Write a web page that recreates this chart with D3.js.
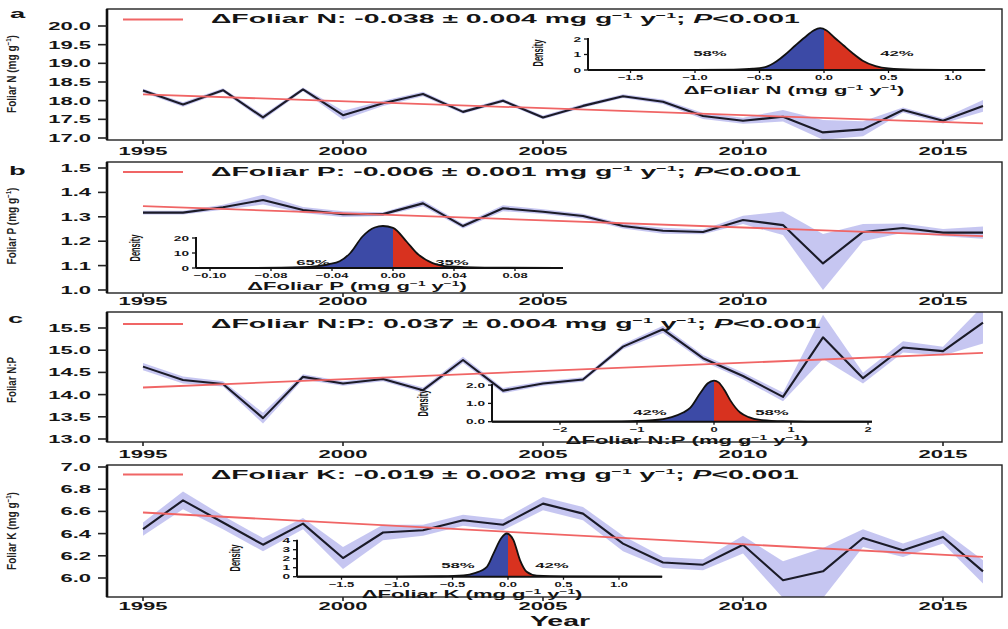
<!DOCTYPE html>
<html><head><meta charset="utf-8">
<script src="https://cdn.jsdelivr.net/npm/d3@7"></script>
<style>body{margin:0;background:#fff}svg{display:block}text{font-family:"Liberation Sans",Arial,sans-serif}</style>
</head><body><svg id="chart" width="1008" height="629"></svg>
<script>
// ---------------- data ----------------
const years=[1995,1996,1997,1998,1999,2000,2001,2002,2003,2004,2005,2006,2007,2008,2009,2010,2011,2012,2013,2014,2015,2016];
const xTickYears=[1995,2000,2005,2010,2015];
const trendYears=[1995,2016];

const foliarN  =[18.27,17.90,18.28,17.55,18.30,17.61,17.93,18.18,17.70,18.00,17.55,17.86,18.12,17.97,17.59,17.46,17.57,17.15,17.23,17.75,17.46,17.86];
const foliarNLo=[18.22,17.84,18.23,17.48,18.25,17.49,17.86,18.12,17.65,17.95,17.50,17.81,18.07,17.91,17.51,17.38,17.44,16.95,17.05,17.68,17.39,17.70];
const foliarNHi=[18.32,17.96,18.33,17.62,18.35,17.73,18.00,18.24,17.75,18.05,17.60,17.91,18.17,18.03,17.67,17.54,17.75,17.48,17.45,17.82,17.53,18.02];
const trendN=[18.17,17.39];
const ticksN=[17.0,17.5,18.0,18.5,19.0,19.5,20.0];

const foliarP  =[1.317,1.317,1.339,1.369,1.328,1.311,1.311,1.355,1.262,1.335,1.321,1.303,1.262,1.243,1.238,1.287,1.266,1.109,1.238,1.254,1.235,1.235];
const foliarPLo=[1.309,1.309,1.329,1.350,1.316,1.299,1.303,1.343,1.252,1.323,1.311,1.293,1.252,1.231,1.228,1.270,1.225,1.000,1.200,1.235,1.220,1.210];
const foliarPHi=[1.325,1.325,1.349,1.390,1.340,1.323,1.319,1.367,1.272,1.347,1.331,1.313,1.272,1.255,1.248,1.304,1.322,1.230,1.270,1.273,1.250,1.260];
const trendP=[1.344,1.221];
const ticksP=[1.0,1.1,1.2,1.3,1.4,1.5];

const foliarNP  =[14.63,14.33,14.24,13.47,14.40,14.25,14.35,14.10,14.78,14.09,14.25,14.34,15.08,15.47,14.82,14.42,13.95,15.29,14.37,15.06,14.98,15.62];
const foliarNPLo=[14.55,14.25,14.18,13.35,14.34,14.20,14.30,14.04,14.71,14.03,14.20,14.29,15.02,15.39,14.75,14.34,13.85,14.80,14.25,14.95,14.88,15.15];
const foliarNPHi=[14.71,14.41,14.30,13.59,14.46,14.30,14.40,14.16,14.85,14.15,14.30,14.39,15.14,15.55,14.89,14.50,14.05,15.80,14.49,15.20,15.08,16.00];
const trendNP=[14.16,14.94];
const ticksNP=[13.0,13.5,14.0,14.5,15.0,15.5];

const foliarK  =[6.44,6.70,6.50,6.30,6.49,6.18,6.41,6.43,6.52,6.48,6.67,6.58,6.31,6.14,6.12,6.30,5.98,6.06,6.36,6.25,6.37,6.06];
const foliarKLo=[6.38,6.62,6.44,6.24,6.44,6.08,6.34,6.38,6.47,6.43,6.61,6.52,6.24,6.09,6.07,6.22,5.82,5.82,6.28,6.19,6.31,5.95];
const foliarKHi=[6.50,6.78,6.56,6.36,6.54,6.28,6.48,6.48,6.57,6.53,6.73,6.64,6.38,6.19,6.17,6.38,6.15,6.27,6.44,6.31,6.43,6.16];
const trendK=[6.59,6.19];
const ticksK=[6.0,6.2,6.4,6.6,6.8,7.0];

// slope density insets
const densNx=[-1.8,-1.0,-0.7,-0.55,-0.45,-0.37,-0.3,-0.22,-0.15,-0.08,-0.03,0.02,0.08,0.15,0.22,0.3,0.4,0.5,0.7,1.0,1.25];
const densNy=[0,0.01,0.03,0.08,0.2,0.55,1.0,1.6,2.1,2.55,2.7,2.55,2.1,1.6,1.1,0.6,0.25,0.1,0.03,0.01,0];
const densNxTicks=[-1.5,-1.0,-0.5,0.0,0.5,1.0];
const densNxLabels=["−1.5","−1.0","−0.5","0.0","0.5","1.0"];
const densNyTicks=[0,1,2];
const densNyLabels=["0","1","2"];
const pctN=["58%","42%"];

const densPx=[-0.129,-0.09,-0.06,-0.05,-0.042,-0.035,-0.028,-0.02,-0.012,-0.0066,0,0.009,0.0155,0.026,0.037,0.06,0.111];
const densPy=[0,0.1,0.5,1.2,2.5,4.5,10,21,27,28,26.7,17.5,10,3.3,1,0.3,0];
const densPxTicks=[-0.12,-0.08,-0.04,0,0.04,0.08];
const densPxLabels=["−0.10","−0.08","−0.04","0.00","0.04","0.08"];
const densPyTicks=[0,10,20];
const densPyLabels=["0","10","20"];
const pctP=["65%","35%"];

const densNPx=[-2.88,-2.0,-1.2,-0.8,-0.55,-0.4,-0.31,-0.18,-0.08,0.0,0.06,0.14,0.21,0.34,0.45,0.6,0.9,1.5,2.05];
const densNPy=[0,0,0.02,0.08,0.25,0.5,0.75,1.55,2.1,2.25,2.15,1.7,1.18,0.5,0.25,0.1,0.03,0,0];
const densNPxTicks=[-2,-1,0,1,2];
const densNPxLabels=["−2","−1","0","1","2"];
const densNPyTicks=[0,1,2];
const densNPyLabels=["0.0","1.0","2.0"];
const pctNP=["42%","58%"];

const densKx=[-1.9,-1.0,-0.6,-0.4,-0.3,-0.19,-0.13,-0.06,-0.012,0.048,0.108,0.168,0.26,0.5,1.39];
const densKy=[0,0.01,0.05,0.15,0.4,1.1,2.6,4.3,4.8,4.1,1.85,0.55,0.12,0.03,0];
const densKxTicks=[-1.5,-1.0,-0.5,0,0.5,1.0];
const densKxLabels=["−1.5","−1.0","−0.5","0.0","0.5","1.0"];
const densKyTicks=[0,1,2,3,4];
const densKyLabels=["0","1","2","3","4"];
const pctK=["58%","42%"];

const slopeN="ΔFoliar N: -0.038 ± 0.004";
const slopeP="ΔFoliar P: -0.006 ± 0.001";
const slopeNP="ΔFoliar N:P: 0.037 ± 0.004";
const slopeK="ΔFoliar K: -0.019 ± 0.002";

// ---------------- drawing ----------------
const svg=d3.select("#chart");
const SX=2.1;
const BAND="#c0c0f0", RED_T="#f06565", LINE="#1b1b28", BLUE="#3c4aa6", RED="#d8321f";

function stext(parent,x,y,parts,o={}){
  const fs=o.size||11;
  const g=parent.append("g");
  const t=g.append("text").attr("font-size",fs).attr("font-weight",o.weight||"bold")
    .attr("text-anchor",o.anchor||"start").attr("fill",o.fill||"#151515");
  if(typeof parts==="string") parts=[{t:parts}];
  let raised=false;
  parts.forEach(p=>{
    const sp=t.append("tspan").text(p.t);
    if(p.sup){sp.attr("font-size",fs*0.62).attr("dy",-fs*0.42);raised=true;}
    else if(raised){sp.attr("dy",fs*0.42);raised=false;}
    if(p.it) sp.attr("font-style","italic");
  });
  let k=o.sx||SX;
  if(o.width){k=o.width/t.node().getComputedTextLength();}
  let tr=`translate(${x},${y})`;
  if(o.rot==="title") tr+=` rotate(-90) scale(${k},1)`;
  else if(o.rot==="stretch") tr+=` scale(${o.sx||SX},1) rotate(-90)`;
  else tr+=` scale(${k},1)`;
  g.attr("transform",tr);
  return g;
}
function unitParts(){return [{t:" (mg g"},{t:"−1",sup:true},{t:" y"},{t:"−1",sup:true},{t:")"}];}

const x=d3.scaleLinear().domain([1994.1,2016.475]).range([107,1002]);

function panel(c){
  const y=d3.scaleLinear().domain(c.cal).range(c.calPx);
  const g=svg.append("g");
  const id="clip"+c.key;
  svg.append("clipPath").attr("id",id).append("rect")
    .attr("x",107).attr("y",c.top).attr("width",1002-107).attr("height",c.bottom-c.top);
  const pg=g.append("g").attr("clip-path",`url(#${id})`);
  const idx=d3.range(years.length);
  pg.append("path").datum(idx).attr("fill",BAND).attr("opacity",0.9)
    .attr("d",d3.area().x(i=>x(years[i])).y0(i=>y(c.lo[i])).y1(i=>y(c.hi[i])));
  pg.append("path").datum(idx).attr("fill","none").attr("stroke",LINE).attr("stroke-width",2.1)
    .attr("stroke-linejoin","round")
    .attr("d",d3.line().x(i=>x(years[i])).y(i=>y(c.vals[i])));
  pg.append("path").datum([0,1]).attr("fill","none").attr("stroke",RED_T).attr("stroke-width",1.8)
    .attr("d",d3.line().x(i=>x(trendYears[i])).y(i=>y(c.trend[i])));
  // frame
  g.append("rect").attr("x",107).attr("y",c.top).attr("width",1002-107).attr("height",c.bottom-c.top)
    .attr("fill","none").attr("stroke","#222").attr("stroke-width",1.4);
  g.append("line").attr("x1",107).attr("x2",107).attr("y1",c.top).attr("y2",c.bottom)
    .attr("stroke","#111").attr("stroke-width",2.6);
  // y axis ticks
  c.ticks.forEach(v=>{
    g.append("line").attr("x1",98).attr("x2",107).attr("y1",y(v)).attr("y2",y(v)).attr("stroke","#222").attr("stroke-width",1.6);
    stext(g,91,y(v)+4,d3.format(c.fmt)(v),{anchor:"end",size:10.5});
  });
  // x axis ticks
  xTickYears.forEach(v=>{
    g.append("line").attr("x1",x(v)).attr("x2",x(v)).attr("y1",c.bottom).attr("y2",c.bottom+4).attr("stroke","#222").attr("stroke-width",1.6);
    stext(g,x(v),c.xlab,String(v),{anchor:"middle",size:10.5});
  });
  // legend + title
  g.append("line").attr("x1",123).attr("x2",183).attr("y1",c.legY).attr("y2",c.legY).attr("stroke",RED_T).attr("stroke-width",2);
  stext(g,211,c.titleY,[{t:c.slope+" mg g"},{t:"−1",sup:true},{t:" y"},{t:"−1",sup:true},{t:"; "},{t:"P",it:true},{t:"<0.001"}],{size:13,width:c.titleW});
  // y title
  stext(g,16,c.ytY,c.ytitle,{size:12.5,weight:"bold",rot:"title",width:c.ytW,anchor:"middle",fill:"#222"});
  if(c.letter) stext(g,c.letter[1],c.letter[2],c.letter[0],{size:13});
  // inset
  const d=c.inset;
  const ix=d3.scaleLinear().domain([0,1]).range(d.xcal);
  const iy=d3.scaleLinear().domain([0,1]).range([d.base,d.base-d.ppu]);
  const ig=g.append("g");
  const pts=d3.range(d.xs.length);
  const area=d3.area().curve(d3.curveMonotoneX).x(i=>ix(d.xs[i])).y0(d.base).y1(i=>iy(d.ys[i]));
  const cl="cl"+c.key, cr="cr"+c.key;
  svg.append("clipPath").attr("id",cl).append("rect").attr("x",0).attr("y",0).attr("width",ix(0)).attr("height",629);
  svg.append("clipPath").attr("id",cr).append("rect").attr("x",ix(0)).attr("y",0).attr("width",1008).attr("height",629);
  ig.append("path").datum(pts).attr("fill",BLUE).attr("clip-path",`url(#${cl})`).attr("d",area);
  ig.append("path").datum(pts).attr("fill",RED).attr("clip-path",`url(#${cr})`).attr("d",area);
  ig.append("path").datum(pts).attr("fill","none").attr("stroke","#111").attr("stroke-width",1.8)
    .attr("d",d3.line().curve(d3.curveMonotoneX).x(i=>ix(d.xs[i])).y(i=>iy(d.ys[i])));
  ig.append("line").attr("x1",d.xr[0]).attr("x2",d.xr[1]).attr("y1",d.base).attr("y2",d.base).attr("stroke","#111").attr("stroke-width",2);
  ig.append("line").attr("x1",d.xr[0]).attr("x2",d.xr[0]).attr("y1",d.base).attr("y2",iy(d.yTicks[d.yTicks.length-1])-1).attr("stroke","#111").attr("stroke-width",2);
  d.yTicks.forEach((v,i)=>{
    ig.append("line").attr("x1",d.xr[0]-4).attr("x2",d.xr[0]).attr("y1",iy(v)).attr("y2",iy(v)).attr("stroke","#111").attr("stroke-width",1.3);
    stext(ig,d.xr[0]-7,iy(v)+2.6,d.yLabels[i],{anchor:"end",size:7.2,sx:1.9});
  });
  d.xTicks.forEach((v,i)=>{
    ig.append("line").attr("x1",ix(v)).attr("x2",ix(v)).attr("y1",d.base).attr("y2",d.base+3).attr("stroke","#111").attr("stroke-width",1.3);
    stext(ig,ix(v),d.base+10,d.xLabels[i],{anchor:"middle",size:7.2,sx:1.8});
  });
  stext(ig,d.dens[0],d.dens[1],"Density",{anchor:"middle",size:7.5,rot:"stretch",sx:1.9});
  stext(ig,d.title[0],d.title[1],[{t:d.name}].concat(unitParts()),{anchor:"middle",size:10.5,sx:2.1});
  stext(ig,d.pct[0][0],d.pct[0][1],d.pctT[0],{anchor:"middle",size:8});
  stext(ig,d.pct[1][0],d.pct[1][1],d.pctT[1],{anchor:"middle",size:8});
}

panel({key:"N",cal:[17,20],calPx:[138,26],top:9,bottom:140,vals:foliarN,lo:foliarNLo,hi:foliarNHi,trend:trendN,
  ticks:ticksN,fmt:".1f",xlab:155,legY:19.5,titleY:23,titleW:589,slope:slopeN,
  ytitle:[{t:"Foliar N (mg g"},{t:"−1",sup:true},{t:")"}],ytY:74,ytW:78,letter:["a",10,18],
  inset:{xcal:[824,953],ppu:15.5,base:70,xr:[588,983],xs:densNx,ys:densNy,xTicks:densNxTicks,xLabels:densNxLabels,
    yTicks:densNyTicks,yLabels:densNyLabels,dens:[543,53],title:[794,94],name:"ΔFoliar N",pct:[[710,56],[897,56]],pctT:pctN}});

panel({key:"P",cal:[1.0,1.5],calPx:[290,168],top:162,bottom:293,vals:foliarP,lo:foliarPLo,hi:foliarPHi,trend:trendP,
  ticks:ticksP,fmt:".1f",xlab:305,legY:172,titleY:176,titleW:590,slope:slopeP,
  ytitle:[{t:"Foliar P (mg g"},{t:"−1",sup:true},{t:")"}],ytY:226,ytW:77,letter:["b",9,175],
  inset:{xcal:[393,393+1525],ppu:1.5,base:268,xr:[196,563],xs:densPx,ys:densPy,xTicks:densPxTicks,xLabels:densPxLabels,
    yTicks:densPyTicks,yLabels:densPyLabels,dens:[140,248],title:[357,290],name:"ΔFoliar P",pct:[[313,265],[452,265]],pctT:pctP}});

panel({key:"NP",cal:[13,15.5],calPx:[439,328],top:312,bottom:442,vals:foliarNP,lo:foliarNPLo,hi:foliarNPHi,trend:trendNP,
  ticks:ticksNP,fmt:".1f",xlab:458,legY:324,titleY:328,titleW:610,slope:slopeNP,
  ytitle:[{t:"Foliar N:P"}],ytY:380,ytW:46,letter:["c",8,323],
  inset:{xcal:[714,791],ppu:18.3,base:421.7,xr:[492,872],xs:densNPx,ys:densNPy,xTicks:densNPxTicks,xLabels:densNPxLabels,
    yTicks:densNPyTicks,yLabels:densNPyLabels,dens:[428,403],title:[687,444],name:"ΔFoliar N:P",pct:[[650,415],[772,415]],pctT:pctNP}});

panel({key:"K",cal:[6,7],calPx:[578,467],top:465,bottom:597,vals:foliarK,lo:foliarKLo,hi:foliarKHi,trend:trendK,
  ticks:ticksK,fmt:".1f",xlab:610,legY:474.5,titleY:479,titleW:588,slope:slopeK,
  ytitle:[{t:"Foliar K (mg g"},{t:"−1",sup:true},{t:")"}],ytY:531,ytW:78,letter:null,
  inset:{xcal:[508,619],ppu:9,base:576.7,xr:[297,662],xs:densKx,ys:densKy,xTicks:densKxTicks,xLabels:densKxLabels,
    yTicks:densKyTicks,yLabels:densKyLabels,dens:[240,558],title:[472,598],name:"ΔFoliar K",pct:[[458,568],[552,568]],pctT:pctK}});

stext(svg,560,626,"Year",{anchor:"middle",size:15,sx:1.9});
</script></body></html>
